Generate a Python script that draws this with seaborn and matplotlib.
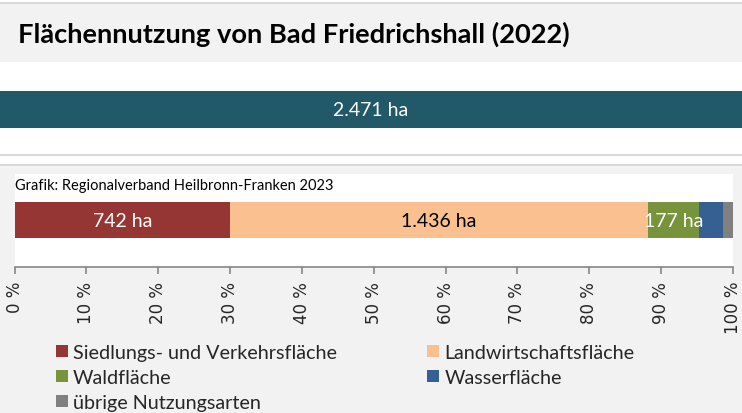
import matplotlib
matplotlib.use("Agg")
import matplotlib.pyplot as plt
from matplotlib.patches import Rectangle, Patch
import numpy as np
import pandas as pd
import seaborn as sns

# Land use of Bad Friedrichshall, 2022 (hectares)
categories = [
    "Siedlungs- und Verkehrsfläche",
    "Landwirtschaftsfläche",
    "Waldfläche",
    "Wasserfläche",
    "übrige Nutzungsarten",
]
hectares = [742, 1436, 177, 83, 33]
colors = ["#963634", "#FAC090", "#77933C", "#366092", "#808080"]
label_colors = ["white", "black", "white", None, None]
total_ha = 2471
tick_values = list(range(0, 101, 10))
tick_labels = [f"{v} %" for v in tick_values]

title = "Flächennutzung von Bad Friedrichshall (2022)"
source = "Grafik: Regionalverband Heilbronn-Franken 2023"

sns.set_theme(style="white")
plt.rcParams["font.family"] = ["Lato", "DejaVu Sans"]

W, H = 742, 414
fig = plt.figure(figsize=(W / 100, H / 100), dpi=100)
fig.patch.set_facecolor("white")


def band(y0, y1, color, x0=0, x1=W):
    """Filled rectangle given in pixel rows measured from the top."""
    fig.patches.append(Rectangle((x0 / W, 1 - y1 / H), (x1 - x0) / W, (y1 - y0) / H,
                                 transform=fig.transFigure, facecolor=color,
                                 edgecolor="none", zorder=-5))


def fmt_ha(v):
    return f"{v:,}".replace(",", ".") + " ha"


# background bands
band(3, 5, "#D9D9D9")
band(5, 63, "#F2F2F2")
band(155, 157, "#D9D9D9")
band(165, 167, "#D9D9D9")
band(167, H, "#F2F2F2")

fig.text(18 / W, 1 - 34 / H, title, fontsize=19.6, fontweight="bold",
         va="center", ha="left", color="black")

# total area bar
ax_top = fig.add_axes([0, 1 - 129 / H, 1, 37 / H])
top_df = pd.DataFrame({"Fläche": ["Gesamt"], "ha": [total_ha]})
sns.barplot(data=top_df, x="ha", y="Fläche", color="#215968", width=1.0,
            saturation=1, linewidth=0, ax=ax_top)
ax_top.set_xlim(0, total_ha)
ax_top.set_ylim(0.5, -0.5)
ax_top.axis("off")
ax_top.bar_label(ax_top.containers[0], labels=[fmt_ha(total_ha)],
                 label_type="center", color="white", fontsize=14)

# shares of land use, stacked as a single 100 % bar
shares = np.array(hectares) / sum(hectares) * 100
cum = np.cumsum(shares)
starts = cum - shares

ax = fig.add_axes([14.5 / W, 1 - 268 / H, 718.5 / W, 93 / H])
ax.set_facecolor("white")
for i in reversed(range(len(categories))):
    df = pd.DataFrame({"Anteil": [cum[i]], "Fläche": ["2022"]})
    sns.barplot(data=df, x="Anteil", y="Fläche", color=colors[i], width=0.8,
                saturation=1, linewidth=0, ax=ax, zorder=2)

for i, c in enumerate(label_colors):
    if c is None:
        continue
    ax.text(starts[i] + shares[i] / 2, 0, fmt_ha(hectares[i]), color=c,
            fontsize=14, ha="center", va="center", zorder=3)

ax.set_xlim(0, 100)
ax.set_ylim(-1.036, 1.014)
ax.set_yticks([])
ax.set_ylabel("")
ax.set_xlabel("")
ax.set_xticks(tick_values)
ax.set_xticklabels(tick_labels, rotation=90, fontsize=12, family="DejaVu Sans")
for s in ["top", "left", "right"]:
    ax.spines[s].set_visible(False)
ax.spines["bottom"].set_color("#868686")
ax.spines["bottom"].set_linewidth(1.2)
ax.tick_params(axis="x", direction="out", length=5, width=1.2, color="#868686",
               pad=5, bottom=True)

fig.text(15 / W, 1 - 186 / H, source, fontsize=10.5, va="center", ha="left",
         color="black")

# legend, filled row by row
handles = [Patch(facecolor=c, edgecolor="none") for c in colors]
order = [0, 2, 4, 1, 3]
leg = fig.legend([handles[i] for i in order], [categories[i] for i in order],
                 ncol=2, loc="upper left", bbox_to_anchor=(56 / W, 1 - 345 / H),
                 frameon=False, fontsize=14.2, handlelength=0.6, handleheight=0.6,
                 handletextpad=0.25, labelspacing=0.40, columnspacing=4.6,
                 borderpad=0, borderaxespad=0)

fig.savefig("out.png", dpi=100, facecolor=fig.get_facecolor())
